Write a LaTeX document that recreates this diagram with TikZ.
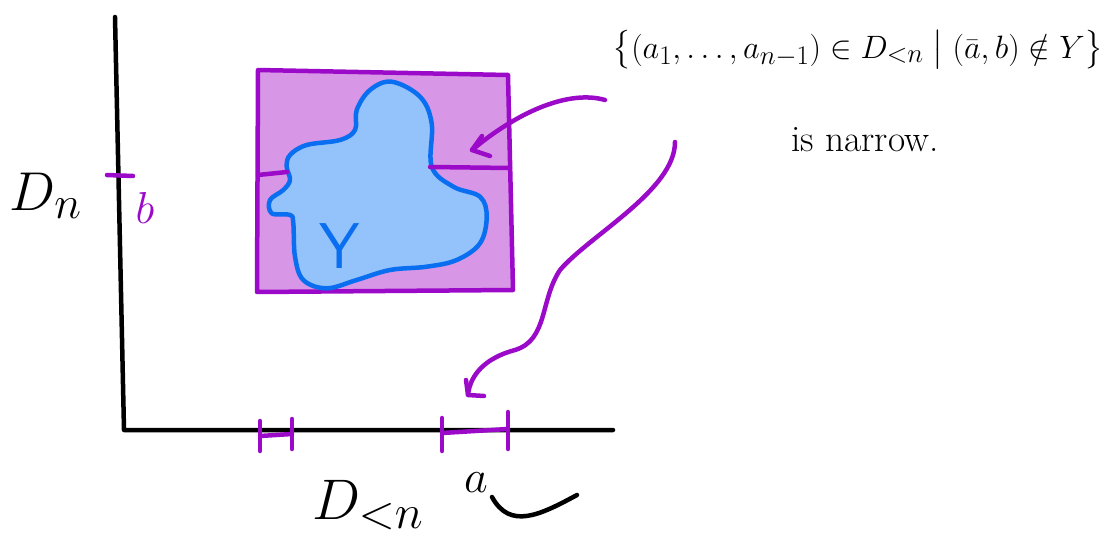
\documentclass[tikz,border=0pt]{standalone}
\usepackage{amsmath}
\usepackage{graphicx}
\definecolor{pstroke}{RGB}{155,10,200}
\definecolor{pfill}{RGB}{216,150,230}
\definecolor{bstroke}{RGB}{10,110,240}
\definecolor{bfill}{RGB}{148,194,250}
\tikzset{
  ink/.style={line width=4.5pt,line cap=round,line join=round},
  purp/.style={ink,draw=pstroke},
  blk/.style={ink,draw=black},
  lbl/.style={inner sep=0pt,font=\Huge},
}
\begin{document}
\begin{tikzpicture}[x=1pt,y=-1pt]
\useasboundingbox (0,0) rectangle (1117,548);
% purple region
\draw[purp,fill=pfill] (258,70) -- (508,75) -- (513,290) -- (257,292) -- cycle;
% blob Y
\draw[ink,draw=bstroke,fill=bfill] plot[smooth cycle,tension=0.6] coordinates {
(391.7,81.7) (420,96.7) (431.7,123.3) (431.7,166.7) (453.3,186.7) (480,196.7)
(486.7,216.7) (480,243.3) (456.7,260) (426.7,266.7) (390,270) (356.7,280)
(326.7,288.3) (303.3,280) (295,256.7) (293.3,223.3) (290,215) (271.7,213.3)
(270,200) (283.3,190) (290,180) (286.7,166.7) (290,155) (306.7,145)
(340,140) (355,130) (356.7,110) (370,90)};
\node[lbl,text=bstroke] (Y) at (340,246) {\scalebox{2.6}{\sffamily Y}};
% fibre line at b
\draw[purp] (258,175) -- (287,172);
\draw[purp] (430,167) -- (510,168);
% axes
\coordinate (vtop) at (115,17);
\coordinate (orig) at (124,430);
\coordinate (hend) at (613,430);
\draw[blk] (vtop) -- (orig) -- (hend);
% tick b
\draw[purp] (107,175) -- (133,176);
\node[lbl,text=pstroke] (b) at (145,208) {\scalebox{1.8}{$b$}};
% ticks on horizontal axis
\draw[purp] (260,436) -- (292,434);
\draw[purp] (260,421) -- (260,451);
\draw[purp] (292,419) -- (292,449);
\draw[purp] (442,433) -- (508,429);
\draw[purp] (442,418) -- (442,451);
\draw[purp] (508,412) -- (508,449);
% axis labels
\node[lbl] (Dn) at (46,196) {\scalebox{2.2}{$D_n$}};
\node[lbl] (Dcn) at (368,505) {\scalebox{2.3}{$D_{<n}$}};
% set text
\node[lbl] (set) at (858,50) {\scalebox{1.3}{$\bigl\{(a_1,\dots,a_{n-1})\in D_{<n}\bigm|(\bar a,b)\notin Y\bigr\}$}};
\node[lbl] (narrow) at (865,140) {\scalebox{1.5}{is narrow.}};
% arrow to fibre
\coordinate (s1) at (605,100);
\coordinate (e1) at (472,150);
\draw[purp] (s1) .. controls (570,90) and (520,110) .. (e1);
\draw[purp] (482,136) -- (e1) -- (490,156);
% arrow to interval
\coordinate (s2) at (675,142);
\coordinate (e2) at (468,395);
\draw[purp] (s2) .. controls (675,190) and (590,235) .. (560,270)
  .. controls (540,300) and (548,340) .. (515,350)
  .. controls (485,358) and (470,375) .. (e2);
\draw[purp] (466,380) -- (e2) -- (484,396);
% label a with curved arrow
\node[lbl] (a) at (476,483) {\scalebox{1.85}{$a$}};
\coordinate (s3) at (577,495);
\draw[blk] (s3) .. controls (540,515) and (510,530) .. (492,497);
\end{tikzpicture}
\end{document}
